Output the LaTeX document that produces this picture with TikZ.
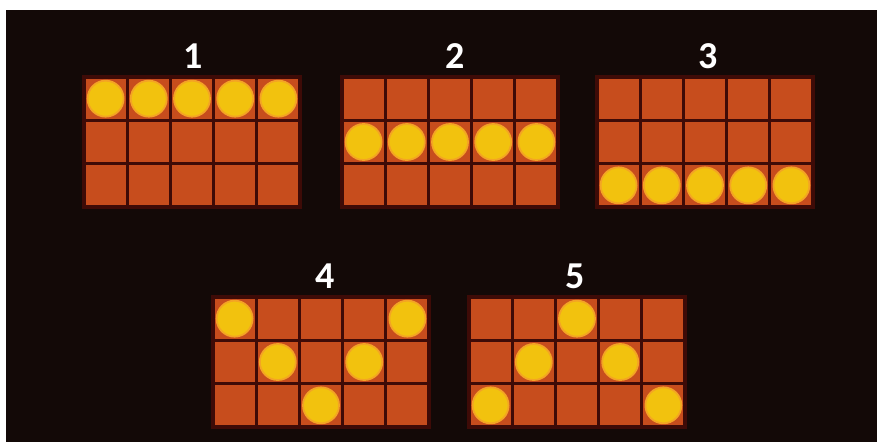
\documentclass[tikz,border=0pt]{standalone}
\usepackage{fontspec}
\setmainfont{Carlito}
\definecolor{bgdark}{HTML}{130907}
\definecolor{cellc}{HTML}{C74D1D}
\definecolor{gapc}{HTML}{3E0B07}
\definecolor{coinc}{HTML}{F2C20E}
\definecolor{coinrim}{HTML}{F4A424}
\tikzset{
  cellbox/.style={fill=cellc},
  coin/.style={circle, fill=coinc, draw=coinrim, line width=1.8pt, minimum size=36pt, inner sep=0pt},
  numlabel/.style={text=white, font=\bfseries\fontsize{38}{38}\selectfont, inner sep=0pt}
}
% #1 name, #2 x, #3 y, #4 list of col/row coins
\newcommand{\paygrid}[4]{%
  \fill[gapc] (#2-2,#3-2) rectangle (#2+218,#3+132);
  \foreach \c in {0,...,4}{
    \foreach \r in {0,1,2}{
      \fill[cellbox] ({#2+\c*43.2+1.6},{#3+\r*43.33+1.6}) rectangle ({#2+(\c+1)*43.2-1.6},{#3+(\r+1)*43.33-1.6});
    }
  }
  \foreach \c/\r in {#4}{
    \node[coin] (#1c\c) at ({#2+\c*43.2+21.6},{#3+\r*43.33+21.67}) {};
  }
}
\begin{document}
\begin{tikzpicture}[x=1pt,y=-1pt]
\useasboundingbox (0,0) rectangle (877,442);
\fill[white] (0,0) rectangle (877,442);
\fill[bgdark] (6,10) rectangle (877,442);
\paygrid{g1}{84}{77}{0/0,1/0,2/0,3/0,4/0}
\paygrid{g2}{342}{77}{0/1,1/1,2/1,3/1,4/1}
\paygrid{g3}{597}{77}{0/2,1/2,2/2,3/2,4/2}
\paygrid{g4}{213}{297}{0/0,1/1,2/2,3/1,4/0}
\paygrid{g5}{469}{297}{0/2,1/1,2/0,3/1,4/2}
\node[numlabel] (n1) at (193,56) {1};
\node[numlabel] (n2) at (455,56) {2};
\node[numlabel] (n3) at (708,56) {3};
\node[numlabel] (n4) at (325,276) {4};
\node[numlabel] (n5) at (575,276) {5};
\end{tikzpicture}
\end{document}
